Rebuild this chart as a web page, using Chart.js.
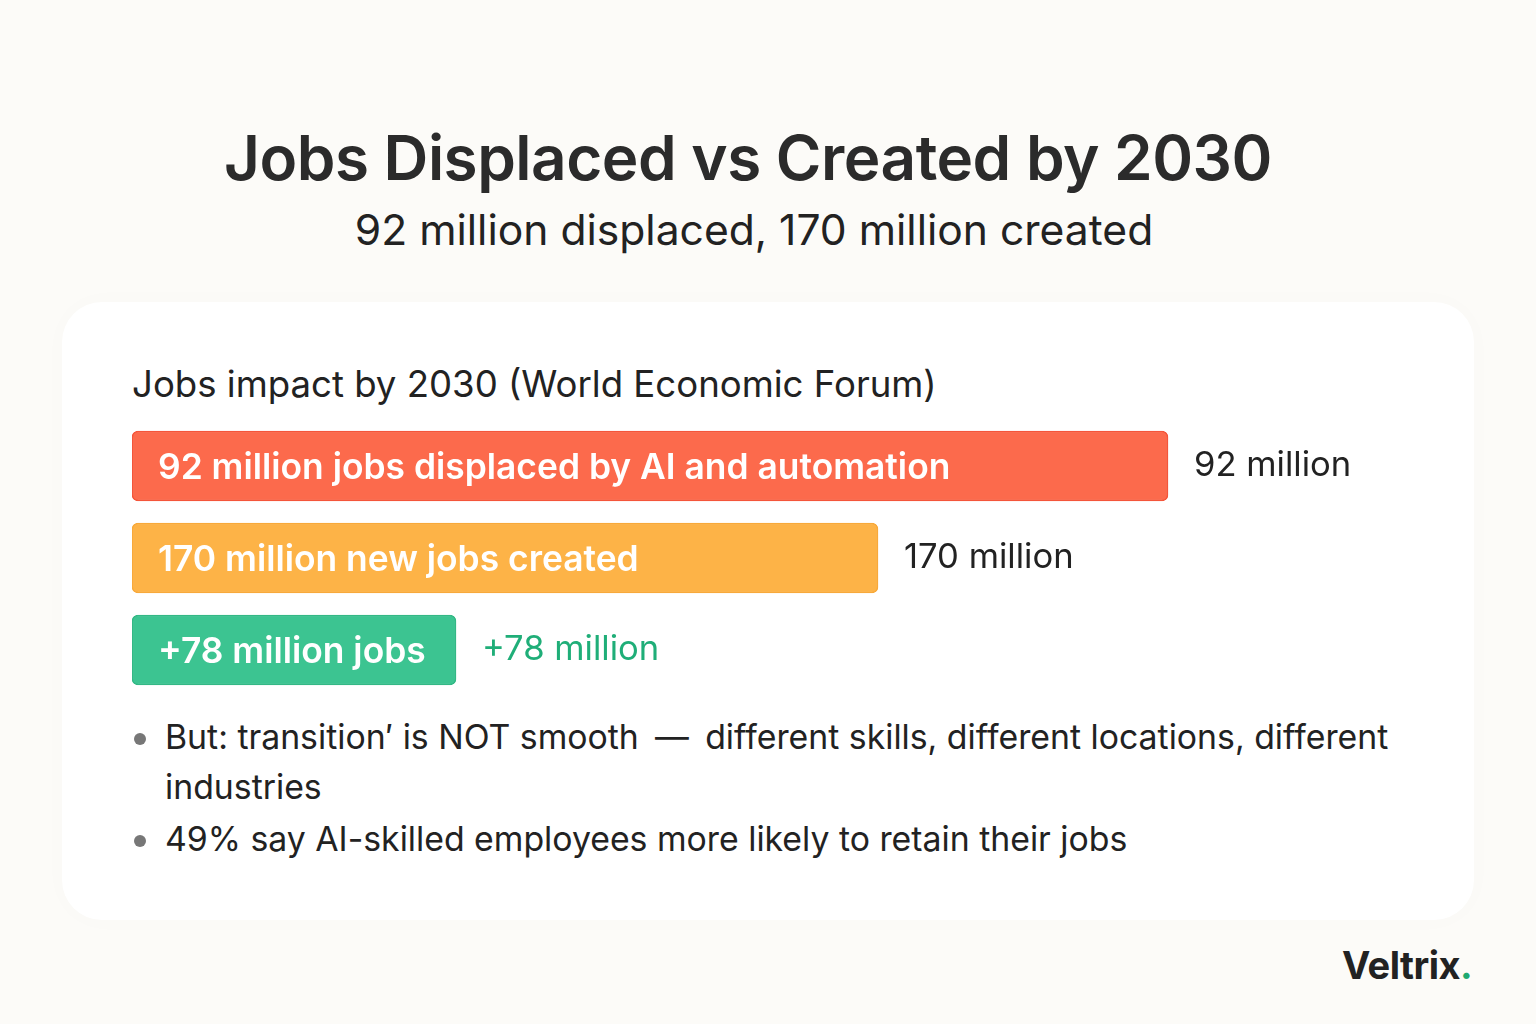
<!DOCTYPE html>
<html>
<head>
<meta charset="utf-8">
<script src="https://cdn.jsdelivr.net/npm/chart.js@4.4.1/dist/chart.umd.min.js"></script>
<style>
  html, body { margin: 0; padding: 0; }
  body {
    width: 1536px; height: 1024px; overflow: hidden;
    background: #fcfbf8; font-family: "Inter", "Noto Sans", sans-serif;
    position: relative; color: #222;
  }
  #title {
    position: absolute; left: 0; width: 1496px; top: 120px; text-align: center;
    font-size: 62px; font-weight: 600; color: #2b2b2b; letter-spacing: -0.5px;
  }
  #subtitle {
    position: absolute; left: 0; width: 1508px; top: 204px; text-align: center;
    font-size: 42.6px; font-weight: 400; color: #222;
  }
  #card {
    position: absolute; left: 62px; top: 302px; width: 1412px; height: 618px;
    background: #ffffff; border-radius: 40px;
    box-shadow: 0 0 30px rgba(0,0,0,0.015);
  }
  #chartTitle {
    position: absolute; left: 132px; top: 362px;
    font-size: 36.6px; color: #222;
  }
  #chartBox { position: absolute; left: 132px; top: 420px; width: 1300px; height: 276px; }
  #notes {
    position: absolute; left: 132px; top: 712px; width: 1300px;
    margin: 0; padding: 0; list-style: none; font-size: 33.8px; line-height: 50px; color: #222;
  }
  #notes li { position: relative; padding-left: 33px; margin-bottom: 2px; }
  #notes li::before {
    content: ""; position: absolute; left: 2px; top: 21px; width: 12px; height: 12px;
    border-radius: 50%; background: #777;
  }
  .dash { margin: 0 0.2em; }
  #brand {
    position: absolute; left: 1342px; top: 942px;
    font-size: 38px; font-weight: 700; color: #222; letter-spacing: -0.5px;
  }
  #brand span { color: #1fa971; }
</style>
</head>
<body>
<div id="title">Jobs Displaced vs Created by 2030</div>
<div id="subtitle">92 million displaced, 170 million created</div>
<div id="card"></div>
<div id="chartTitle">Jobs impact by 2030 (World Economic Forum)</div>
<div id="chartBox"><canvas id="jobsChart"></canvas></div>
<ul id="notes">
  <li>But: transition′ is NOT smooth <span class="dash">—</span> different skills, different locations, different industries</li>
  <li>49% say AI-skilled employees more likely to retain their jobs</li>
</ul>
<div id="brand">Veltrix<span>.</span></div>

<script>
// 막대 데이터
const categories = ['Displaced', 'Created', 'Net gain'];
const barLabels = ['92 million jobs displaced by AI and automation', '170 million new jobs created', '+78 million jobs'];
const valueLabels = ['92 million', '170 million', '+78 million'];
// bar lengths as drawn in the picture (not proportional to the labels)
const barLengths = [103.6, 74.6, 32.4];
const barColors = ['#fc6a4c', '#fdb347', '#3cc491'];
const borderColors = ['#f4553a', '#f8a93a', '#33b885'];
const valueColors = ['#222222', '#222222', '#1fae78'];

// 막대 안/밖 라벨 그리기
const barTextPlugin = {
    id: 'barText',
    afterDatasetsDraw(chart) {
        const c = chart.ctx;
        const bars = chart.getDatasetMeta(0).data;
        c.save();
        c.textBaseline = 'middle';
        bars.forEach((bar, i) => {
            c.font = '600 35.4px Inter, "Noto Sans", sans-serif';
            c.fillStyle = '#ffffff';
            c.textAlign = 'left';
            c.fillText(barLabels[i], bar.base + 26, bar.y + 2);
            c.font = '400 34.6px Inter, "Noto Sans", sans-serif';
            c.fillStyle = valueColors[i];
            c.fillText(valueLabels[i], bar.x + 26, bar.y);
        });
        c.restore();
    }
};

new Chart(document.getElementById('jobsChart'), {
    type: 'bar',
    data: {
        labels: categories,
        datasets: [{
            data: barLengths,
            backgroundColor: barColors,
            borderColor: borderColors,
            borderWidth: 1.5,
            borderRadius: 6,
            borderSkipped: false,
            barThickness: 70
        }]
    },
    options: {
        indexAxis: 'y',
        responsive: true,
        maintainAspectRatio: false,
        animation: false,
        layout: { padding: 0 },
        plugins: { legend: { display: false }, tooltip: { enabled: false } },
        scales: {
            x: { min: 0, max: 130, display: false },
            y: { display: false }
        }
    },
    plugins: [barTextPlugin]
});
</script>
</body>
</html>
